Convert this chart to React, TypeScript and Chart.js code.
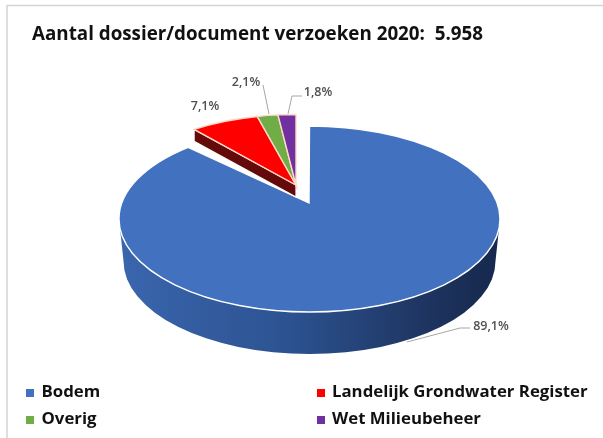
import React, { useEffect, useRef } from "react";
import { Chart, registerables } from "chart.js";

Chart.register(...registerables);

const categories = ["Bodem", "Landelijk Grondwater Register", "Overig", "Wet Milieubeheer"];
const shares = [89.1, 7.1, 2.1, 1.8];
const colours = ["#4271bf", "#ff0000", "#70ad47", "#7030a0"];
const titleText = "Aantal dossier/document verzoeken 2020:  5.958";

const FONT = "'Open Sans', sans-serif";
const mainFace = { cx: 309.5, cy: 219, rx: 190.5, ry: 93, ax: 309, ay: 203, depth: 42, bottomRx: 186 };
const groupFace = { cx: 296, cy: 179.5, rx: 160, ry: 65, ax: 296, ay: 185, depth: 12, bottomRx: 160 };
const labelPos = [
  { x: 491, y: 326, line: [[470, 328], [460, 328], [407, 342]] },
  { x: 205, y: 106, line: [] },
  { x: 246, y: 82, line: [[263, 85], [269, 114]] },
  { x: 318, y: 92, line: [[302, 96], [292, 96], [288, 114]] },
];
const legendPos = [
  { x: 26, y: 389, tx: 41.5, ty: 392 },
  { x: 317, y: 389, tx: 332, ty: 392 },
  { x: 26, y: 416, tx: 41.5, ty: 419 },
  { x: 317, y: 416, tx: 332, ty: 419 },
];

function wedge(ctx: CanvasRenderingContext2D, f: typeof mainFace, a0: number, a1: number) {
  ctx.beginPath();
  ctx.ellipse(f.cx, f.cy, f.rx, f.ry, 0, a0, a1);
  ctx.lineTo(f.ax, f.ay);
  ctx.closePath();
}

const pie3d = {
  id: "pie3d",
  beforeDatasetsDraw(chart: any) {
    const ctx: CanvasRenderingContext2D = chart.ctx;
    const arcs = chart.getDatasetMeta(0).data;
    ctx.save();

    // Side of the big slice
    const m = mainFace;
    const side = ctx.createLinearGradient(m.cx - m.rx, 0, m.cx + m.rx, 0);
    side.addColorStop(0, "#3a66ae");
    side.addColorStop(0.45, "#2c5290");
    side.addColorStop(0.8, "#1e3561");
    side.addColorStop(1, "#16284c");
    ctx.beginPath();
    ctx.ellipse(m.cx, m.cy, m.rx, m.ry, 0, 0, Math.PI);
    ctx.lineTo(m.cx - m.bottomRx, m.cy + m.depth);
    ctx.ellipse(m.cx, m.cy + m.depth, m.bottomRx, m.ry, 0, Math.PI, 0, true);
    ctx.closePath();
    ctx.fillStyle = side;
    ctx.fill();

    // Faces
    arcs.forEach((arc: any, i: number) => {
      const f = i === 0 ? mainFace : groupFace;
      if (i === 1) {
        // Cut side of the exploded group, along the red slice's left edge
        const tx = f.cx + f.rx * Math.cos(arc.startAngle);
        const ty = f.cy + f.ry * Math.sin(arc.startAngle);
        ctx.beginPath();
        ctx.moveTo(tx, ty);
        ctx.lineTo(f.ax, f.ay);
        ctx.lineTo(f.ax, f.ay + f.depth);
        ctx.lineTo(tx, ty + f.depth);
        ctx.closePath();
        ctx.fillStyle = "#650a0a";
        ctx.fill();
        ctx.strokeStyle = "#ffffff";
        ctx.lineWidth = 1.2;
        ctx.stroke();
      }
      wedge(ctx, f, arc.startAngle, arc.endAngle);
      ctx.fillStyle = arc.options.backgroundColor;
      ctx.fill();
      ctx.strokeStyle = i === 0 ? "#ffffff" : "#ffd9c8";
      ctx.lineWidth = 1.4;
      ctx.stroke();
    });

    // Leader lines and labels
    ctx.font = `600 12.5px ${FONT}`;
    ctx.textAlign = "center";
    ctx.textBaseline = "middle";
    shares.forEach((v, i) => {
      const p = labelPos[i];
      if (p.line.length) {
        ctx.beginPath();
        p.line.forEach(([x, y], k) => (k ? ctx.lineTo(x, y) : ctx.moveTo(x, y)));
        ctx.strokeStyle = "#a6a6a6";
        ctx.lineWidth = 1;
        ctx.stroke();
      }
      ctx.fillStyle = "#505050";
      ctx.fillText(v.toFixed(1).replace(".", ",") + "%", p.x, p.y);
    });

    // Legend
    ctx.font = `700 16.8px ${FONT}`;
    ctx.textAlign = "left";
    categories.forEach((c, i) => {
      const p = legendPos[i];
      ctx.fillStyle = colours[i];
      ctx.fillRect(p.x, p.y, 8, 8);
      ctx.fillStyle = "#111111";
      ctx.fillText(c, p.tx, p.ty);
    });

    // Frame
    ctx.strokeStyle = "#d4d4d4";
    ctx.lineWidth = 1.5;
    ctx.beginPath();
    ctx.moveTo(7, 438);
    ctx.lineTo(7, 5.5);
    ctx.lineTo(603, 5.5);
    ctx.stroke();
    ctx.restore();
    return false;
  },
};

export default function App() {
  const ref = useRef<HTMLCanvasElement | null>(null);
  useEffect(() => {
    document.body.style.margin = "0";
    const chart = new Chart(ref.current!, {
      type: "pie",
      data: {
        labels: categories,
        datasets: [{ data: shares, backgroundColor: colours }],
      },
      options: {
        responsive: false,
        animation: false,
        layout: { padding: { left: 32, top: 23 } },
        plugins: {
          legend: { display: false },
          tooltip: { enabled: false },
          title: {
            display: true,
            text: titleText,
            align: "start",
            color: "#111111",
            font: { family: FONT, size: 18.8, weight: "bold" },
            padding: 0,
          },
        },
      },
      plugins: [pie3d],
    } as any);
    return () => chart.destroy();
  }, []);
  return <canvas ref={ref} width={603} height={438} style={{ display: "block" }} />;
}
